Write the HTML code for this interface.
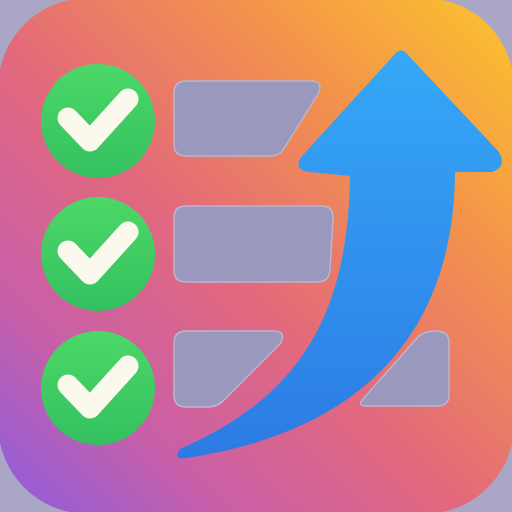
<!DOCTYPE html>
<html><head><style>
html,body{margin:0;padding:0;width:512px;height:512px;overflow:hidden;background:#aaa6c6}
</style></head><body>
<svg width="512" height="512" viewBox="0 0 512 512">
<defs>
<linearGradient id="bg" x1="1" y1="0" x2="0" y2="1">
<stop offset="0" stop-color="#fcc52c"/>
<stop offset="0.28" stop-color="#f3914c"/>
<stop offset="0.55" stop-color="#e2687e"/>
<stop offset="0.78" stop-color="#c85fa8"/>
<stop offset="1" stop-color="#8a5ee0"/>
</linearGradient>
<linearGradient id="ar" x1="0" y1="0" x2="0" y2="1">
<stop offset="0" stop-color="#35a8f6"/>
<stop offset="1" stop-color="#2c7be4"/>
</linearGradient>
<linearGradient id="gc" x1="0" y1="0" x2="0" y2="1">
<stop offset="0" stop-color="#4cd866"/>
<stop offset="1" stop-color="#34c060"/>
</linearGradient>
</defs>
<rect x="-2" y="-2" width="516" height="516" rx="90" fill="url(#bg)"/>
<g fill="url(#gc)">
<circle cx="98" cy="121" r="57"/>
<circle cx="98" cy="254" r="57"/>
<circle cx="98" cy="388" r="57"/>
</g>
<g fill="none" stroke="#fbf8ee" stroke-width="21" stroke-linecap="round" stroke-linejoin="round">
<path d="M68,118 L90,141 L128,99"/>
<path d="M68,251 L90,274 L128,232"/>
<path d="M68,385 L90,408 L128,366"/>
</g>
<g fill="#9a99bd" stroke="#b8b6d2" stroke-width="1.5" stroke-linejoin="round">
<path d="M186,81 L312,81 Q324,82 318,94 L283,150 Q279,156 270,156 L186,156 Q174,156 174,144 L174,93 Q174,81 186,81 Z"/>
<path d="M186,206 L322,206 Q333,206 333,218 L330,270 Q329,282 318,282 L186,282 Q174,282 174,270 L174,218 Q174,206 186,206 Z"/>
<path d="M186,331 L275,331 Q287,332 280,344 L222,402 Q216,407 208,407 L186,407 Q174,407 174,395 L174,343 Q174,331 186,331 Z"/>
<path d="M436,331 Q449,331 449,343 L449,395 Q449,406 437,406 L366,406 Q357,406 363,399 L418,337 Q424,331 436,331 Z"/>
</g>
<path fill="url(#ar)" d="M394,55 Q401,46 408,55 L499,152 Q507,167 492,172 L455,172 C454,335 360,432 186,458 Q172,460 180,449 C296,398 348,320 350,176 L310,172 Q292,170 302,156 Z"/>
</svg>
</body></html>
